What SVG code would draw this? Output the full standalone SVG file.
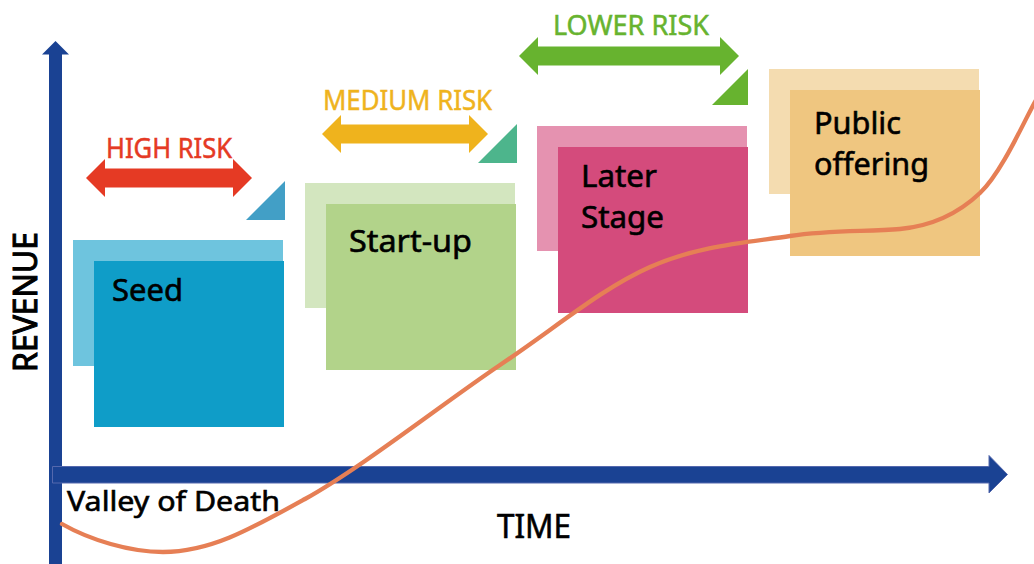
<svg xmlns="http://www.w3.org/2000/svg" width="1034" height="564" viewBox="0 0 1034 564">
<style>
text{font-family:"Noto Sans","Open Sans","DejaVu Sans",sans-serif;}
.lbl{font-size:31px;fill:#000;stroke:#000;stroke-width:0.6px;}
.risk{font-size:27px;stroke-width:0.5px;}
.axis{fill:#1A4293;}
.haxis{fill:#1A4293;stroke:#5468AD;stroke-width:1;}
.curve{fill:none;stroke:#E67F55;stroke-width:4.3;stroke-linecap:round;}
</style>
<rect width="1034" height="564" fill="#fff"/>

<g id="axes">
  <rect class="axis" x="49" y="53" width="13" height="511"/>
  <polygon class="axis" points="42,54.5 55.5,41 69,54.5"/>
  <polygon class="haxis" points="52.5,466.5 989,466.5 989,455.5 1007.5,474.5 989,493 989,483 52.5,483"/>
</g>

<g id="seed">
  <rect x="73" y="240" width="210" height="126" fill="#6EC4DE"/>
  <rect x="94" y="261" width="190" height="166" fill="#0F9DC8"/>
  <text class="lbl" x="112" y="301" textLength="71" lengthAdjust="spacingAndGlyphs">Seed</text>
</g>
<g id="startup">
  <rect x="305" y="183" width="210" height="125" fill="#D3E6BF"/>
  <rect x="326" y="204" width="190" height="166" fill="#B2D38A"/>
  <text class="lbl" x="349" y="252" textLength="123" lengthAdjust="spacingAndGlyphs">Start-up</text>
</g>
<g id="later-stage">
  <rect x="537" y="126" width="210" height="125" fill="#E592B0"/>
  <rect x="558" y="147" width="190" height="166" fill="#D44B7C"/>
  <text class="lbl" x="581" y="187" textLength="76" lengthAdjust="spacingAndGlyphs">Later</text>
  <text class="lbl" x="581" y="228" textLength="83" lengthAdjust="spacingAndGlyphs">Stage</text>
</g>
<g id="public-offering">
  <rect x="769" y="69" width="210" height="125" fill="#F4DCB0"/>
  <rect x="790" y="90" width="190" height="166" fill="#EFC680"/>
  <text class="lbl" x="814" y="134" textLength="87" lengthAdjust="spacingAndGlyphs">Public</text>
  <text class="lbl" x="814" y="175" textLength="115" lengthAdjust="spacingAndGlyphs">offering</text>
</g>

<g id="high-risk">
  <polygon fill="#E53A24" points="86,178 105,159 105,168.5 233,168.5 233,159 252,178 233,197 233,187.5 105,187.5 105,197"/>
  <text class="risk" x="106" y="158" fill="#E53A24" stroke="#E53A24" textLength="126" lengthAdjust="spacingAndGlyphs">HIGH RISK</text>
  <polygon fill="#429FC6" points="246,220 285,181 285,220"/>
</g>
<g id="medium-risk">
  <polygon fill="#EFB31D" points="322,134 341,115 341,124.5 469,124.5 469,115 488,134 469,153 469,143.5 341,143.5 341,153"/>
  <text class="risk" x="323" y="110" fill="#EFB31D" stroke="#EFB31D" textLength="169" lengthAdjust="spacingAndGlyphs">MEDIUM RISK</text>
  <polygon fill="#4DB58C" points="478,163 517,124 517,163"/>
</g>
<g id="lower-risk">
  <polygon fill="#67B32F" points="519,56 538,37 538,46.5 720,46.5 720,37 739,56 720,75 720,65.5 538,65.5 538,75"/>
  <text class="risk" x="553" y="35" fill="#67B32F" stroke="#67B32F" textLength="156" lengthAdjust="spacingAndGlyphs">LOWER RISK</text>
  <polygon fill="#67B32F" points="712,105 748,69 748,105"/>
</g>

<g id="labels">
  <text class="lbl" x="67" y="511" style="font-size:27px" textLength="213" lengthAdjust="spacingAndGlyphs">Valley of Death</text>
  <text class="lbl" x="497" y="538" style="font-size:33px" textLength="74" lengthAdjust="spacingAndGlyphs">TIME</text>
  <text class="lbl" transform="translate(37,372) rotate(-90)" style="font-size:33px;stroke-width:1px" textLength="140" lengthAdjust="spacingAndGlyphs">REVENUE</text>
</g>

<g id="connectors">
  <path id="revenue-curve" class="curve" d="M62,524 C90,540 130,552 163,552 C210,552 249,530 305,499 C361,468 442.5,403.7 500,365 C557.5,326.3 601.7,288.5 650,267 C698.3,245.5 748.3,242.3 790,236 C831.7,229.7 868,232 900,229 C931.7,226 957.3,214.5 980,193 C1002.7,171.5 1026.7,115.5 1036,100"/>
</g>
</svg>
